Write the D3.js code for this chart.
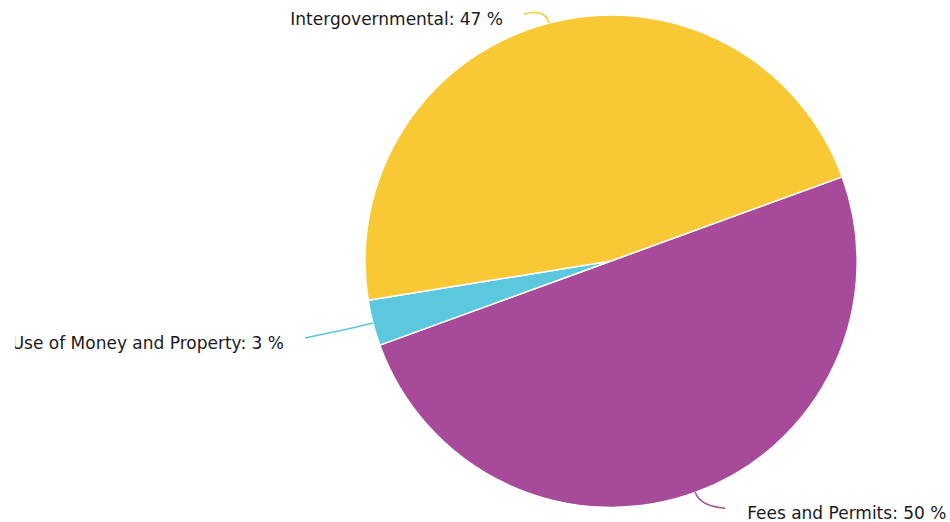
<!DOCTYPE html>
<html>
<head>
<meta charset="utf-8">
<script src="https://cdn.jsdelivr.net/npm/d3@7"></script>
<style>
  html, body { margin: 0; padding: 0; background: #fff; }
  svg { display: block; }
  .lbl { font-family: "DejaVu Sans", Verdana, sans-serif; font-size: 17px; fill: #1a1a1a; }
</style>
</head>
<body>
<div id="chart"></div>
<script>
// data
const categories = ["Fees and Permits", "Use of Money and Property", "Intergovernmental"];
const shares = [50, 3, 47];
const colours = ["#a74a9a", "#5bc8de", "#f8c935"];

const width = 950;
const height = 522;
const cx = 611, cy = 261, radius = 246;

// where each connector ends, relative to the slice edge point
const labelNudge = [[30, 16], [-68, 15], [-25, -9]];

const svg = d3.select("#chart").append("svg")
    .attr("width", width)
    .attr("height", height);

// labels are clipped at the left edge of the plot area
svg.append("defs").append("clipPath")
    .attr("id", "plotClip")
    .append("rect")
    .attr("x", 15).attr("y", 0)
    .attr("width", width - 15).attr("height", height);

const g = svg.append("g").attr("transform", `translate(${cx},${cy})`);
const lg = svg.append("g").attr("clip-path", "url(#plotClip)")
    .append("g").attr("transform", `translate(${cx},${cy})`);

const startDeg = 70;
const pie = d3.pie()
    .sort(null)
    .value(d => d)
    .startAngle(startDeg * Math.PI / 180)
    .endAngle((startDeg + 360) * Math.PI / 180);

const arcs = pie(shares);
const arcGen = d3.arc().innerRadius(0).outerRadius(radius);

g.selectAll("path.slice")
    .data(arcs)
    .enter()
    .append("path")
    .attr("class", "slice")
    .attr("d", arcGen)
    .attr("fill", (d, i) => colours[i])
    .attr("stroke", "#fff")
    .attr("stroke-width", 1.5)
    .attr("stroke-linejoin", "round");

const polar = (a, r) => [r * Math.sin(a), -r * Math.cos(a)];

arcs.forEach((d, i) => {
    const mid = (d.startAngle + d.endAngle) / 2;
    const p0 = polar(mid, radius);
    const ctrl = polar(mid, radius + 15);
    const c = [p0[0] + labelNudge[i][0], p0[1] + labelNudge[i][1]];
    const right = c[0] > p0[0];

    lg.append("path")
        .attr("d", `M${c[0]},${c[1]} Q${ctrl[0]},${ctrl[1]} ${p0[0]},${p0[1]}`)
        .attr("fill", "none")
        .attr("stroke", colours[i])
        .attr("stroke-width", 1.5);

    lg.append("text")
        .attr("class", "lbl")
        .attr("x", c[0] + (right ? 22 : -21))
        .attr("y", c[1] + 5)
        .attr("dominant-baseline", "central")
        .attr("text-anchor", right ? "start" : "end")
        .text(`${categories[i]}: ${shares[i]} %`);
});
</script>
</body>
</html>
